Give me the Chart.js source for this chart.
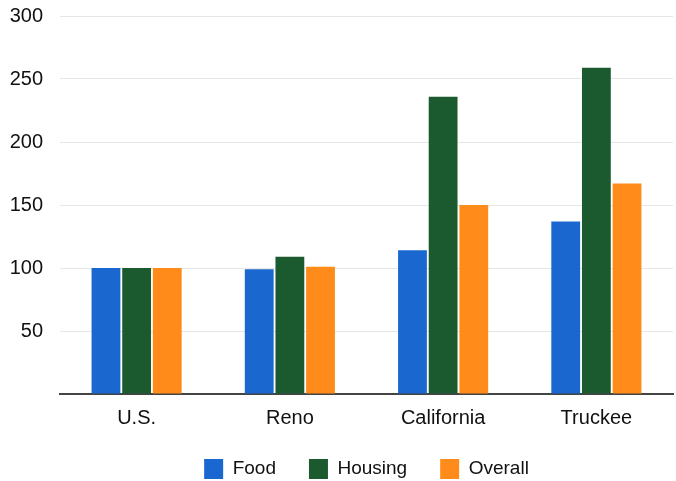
<!DOCTYPE html>
<html>
<head>
<meta charset="utf-8">
<script src="https://cdn.jsdelivr.net/npm/chart.js@4"></script>
<style>
  html, body { margin: 0; padding: 0; background: #fff; }
  #wrap { width: 676px; height: 481px; }
</style>
</head>
<body>
<div id="wrap"><canvas id="costChart" width="676" height="481"></canvas></div>
<script>
// values (index, U.S. = 100)
const places = ["U.S.", "Reno", "California", "Truckee"];
const food = [100, 99, 114, 137];
const housing = [100, 109, 236, 259];
const overall = [100, 101, 150, 167];
const yTicks = [50, 100, 150, 200, 250, 300];

// legend padding is wide (for gaps between items), so keep its height short
const shortLegend = {
  id: "shortLegend",
  beforeInit(chart) {
    const lg = chart.legend;
    if (!lg) return;
    const fit = lg.fit;
    lg.fit = function () {
      fit.call(this);
      this.height = 53;
    };
  },
  afterLayout(chart) {
    const lg = chart.legend;
    if (!lg) return;
    lg.top -= 2;
    lg.bottom -= 2;
  }
};

document.addEventListener("DOMContentLoaded", function () {
  const ctx = document.getElementById("costChart").getContext("2d");
  Chart.defaults.font.family = "'Liberation Sans', Arial, sans-serif";
  Chart.defaults.color = "#111";

  new Chart(ctx, {
    type: "bar",
    data: {
      labels: places,
      datasets: [
        { label: "Food", data: food, backgroundColor: "#1a68cf" },
        { label: "Housing", data: housing, backgroundColor: "#1b5a2e" },
        { label: "Overall", data: overall, backgroundColor: "#ff8c1a" }
      ]
    },
    options: {
      responsive: false,
      animation: false,
      devicePixelRatio: 1,
      categoryPercentage: 0.6,
      barPercentage: 0.94,
      layout: { padding: { top: 0, right: 3, left: 0, bottom: 0 } },
      scales: {
        x: {
          afterFit: function (scale) { scale.height = 34; },
          grid: { display: false },
          border: { display: true, color: "#444", width: 2 },
          ticks: { font: { size: 20 }, padding: 4 }
        },
        y: {
          min: 0,
          max: 300,
          afterFit: function (scale) {
            scale.width = 60;
            scale.paddingTop = 16;
            scale.paddingBottom = 0;
          },
          afterBuildTicks: function (scale) {
            scale.ticks = [0].concat(yTicks).map(v => ({ value: v }));
          },
          grid: { color: "#e6e6e6", drawTicks: false },
          border: { display: false },
          ticks: {
            font: { size: 20 },
            padding: 17,
            callback: v => (v === 0 ? "" : v)
          }
        }
      },
      plugins: {
        legend: {
          position: "bottom",
          fullSize: false,
          labels: {
            boxWidth: 19,
            boxHeight: 20,
            padding: 33,
            font: { size: 19 }
          }
        },
        tooltip: { enabled: false }
      }
    },
    plugins: [shortLegend]
  });
});
</script>
</body>
</html>
